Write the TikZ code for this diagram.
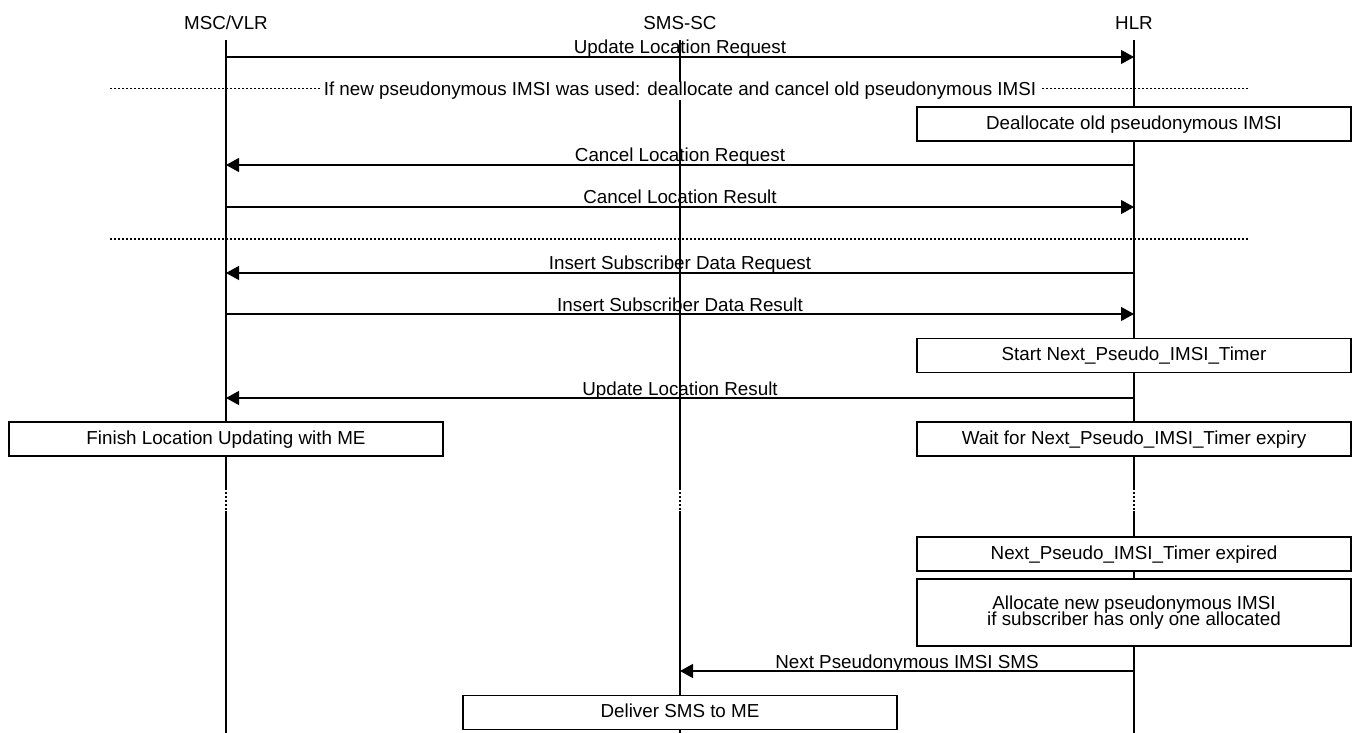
\documentclass[tikz,border=0pt]{standalone}
\usepackage{fontspec}
\setmainfont{Liberation Sans}
\usetikzlibrary{arrows.meta}
\newcommand\mylblfont{\fontsize{9.4}{8.3}\selectfont\setlength{\lineskiplimit}{-5pt}\relax}
\begin{document}
\begin{tikzpicture}[x=0.5pt,y=-0.5pt,
  txt/.style={font=\mylblfont, inner sep=0pt},
  lbl/.style={txt, anchor=base},
  actbox/.style={txt, draw, fill=white, line width=0.6pt, minimum width=217pt,
    minimum height=17pt, text height=7pt, text depth=1.7pt, align=center},
  tallbox/.style={txt, draw, fill=white, line width=0.6pt, minimum width=217pt,
    minimum height=33.5pt, align=center},
  msg/.style={line width=0.6pt, -{Triangle[length=6.5pt,width=7pt]}},
  life/.style={line width=0.6pt},
  gap/.style={line width=0.6pt, dash pattern=on 1pt off 1pt},
  sep/.style={line width=0.5pt, dash pattern=on 1pt off 1pt}
]
\useasboundingbox (0,0) rectangle (1356,733);

% entity headers
\node[lbl] (msc) at (226,30) {MSC/VLR};
\node[lbl] (smsc) at (680,30) {SMS-SC};
\node[lbl] (hlr) at (1134,30) {HLR};

% lifelines
\foreach \n/\x in {m/226,s/680,h/1134}{
  \coordinate (\n top) at (\x,40);
  \coordinate (\n ga) at (\x,488);
  \coordinate (\n gb) at (\x,511);
  \coordinate (\n bot) at (\x,733);
  \draw[life] (\n top) -- (\n ga);
  \draw[gap] (\n ga) -- (\n gb);
  \draw[life] (\n gb) -- (\n bot);
}

% message end points
\foreach \r/\y in {1/57,2/165,3/207,4/273,5/314,6/398,7/671}{
  \coordinate (m\r) at (226,\y);
  \coordinate (s\r) at (680,\y);
  \coordinate (h\r) at (1134,\y);
}

% messages
\draw[msg] (m1) -- (h1);
\node[lbl] (l1) at (680,54) {Update Location Request};

% separator 1
\coordinate (sep1a) at (110,89);
\coordinate (sep1b) at (1248,89);
\draw[sep] (sep1a) -- (sep1b);
\node[lbl, fill=white, inner xsep=2pt, inner ysep=0pt] (sep1t) at (680,96)
  {If new pseudonymous IMSI was used: deallocate and cancel old pseudonymous IMSI};

\node[actbox] (b1) at (1134,124) {Deallocate old pseudonymous IMSI};

\draw[msg] (h2) -- (m2);
\node[lbl] (l2) at (680,162) {Cancel Location Request};

\draw[msg] (m3) -- (h3);
\node[lbl] (l3) at (680,204) {Cancel Location Result};

% separator 2
\coordinate (sep2a) at (110,239);
\coordinate (sep2b) at (1248,239);
\draw[sep] (sep2a) -- (sep2b);

\draw[msg] (h4) -- (m4);
\node[lbl] (l4) at (680,270) {Insert Subscriber Data Request};

\draw[msg] (m5) -- (h5);
\node[lbl] (l5) at (680,311) {Insert Subscriber Data Result};

\node[actbox] (b2) at (1134,355.5) {Start Next\_Pseudo\_IMSI\_Timer};

\draw[msg] (h6) -- (m6);
\node[lbl] (l6) at (680,395) {Update Location Result};

\node[actbox] (b3) at (226,439) {Finish Location Updating with ME};
\node[actbox] (b4) at (1134,439) {Wait for Next\_Pseudo\_IMSI\_Timer expiry};

\node[actbox] (b5) at (1134,554) {Next\_Pseudo\_IMSI\_Timer expired};
\node[tallbox] (b6) at (1134,612.5) {Allocate new pseudonymous IMSI\\if subscriber has only one allocated};

\draw[msg] (h7) -- (s7);
\node[lbl] (l7) at (907,668) {Next Pseudonymous IMSI SMS};

\node[actbox] (b7) at (680,712.5) {Deliver SMS to ME};
\end{tikzpicture}
\end{document}
